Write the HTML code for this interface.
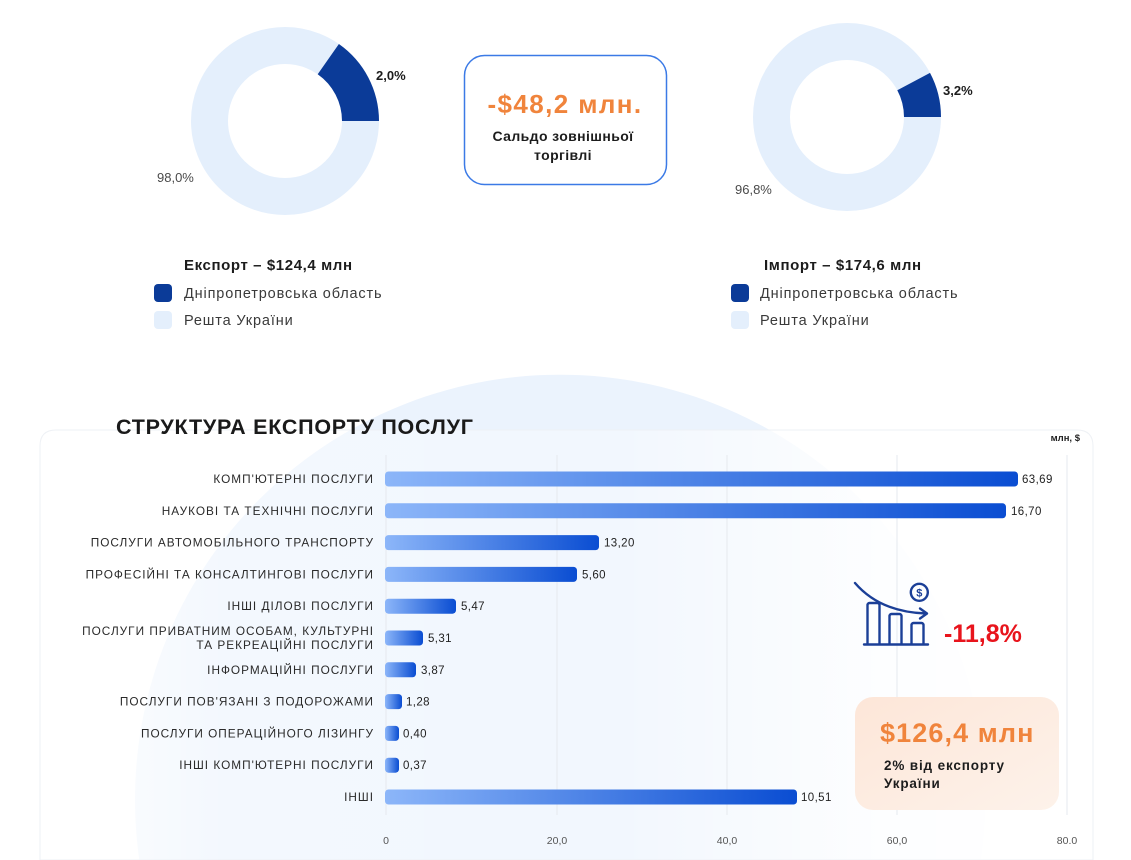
<!DOCTYPE html>
<html><head><meta charset="utf-8">
<style>
html,body{margin:0;padding:0;background:#fff;}
body{width:1131px;height:860px;overflow:hidden;position:relative;font-family:"Liberation Sans",sans-serif;}
svg{position:absolute;left:0;top:0;overflow:hidden;}
text{font-family:"Liberation Sans",sans-serif;}
</style></head>
<body>
<svg width="1131" height="860" viewBox="0 0 1131 860" xmlns="http://www.w3.org/2000/svg">
<defs>
  <linearGradient id="bar" x1="0" y1="0" x2="1" y2="0">
    <stop offset="0" stop-color="#8cb6f9"/>
    <stop offset="1" stop-color="#0a4dd2"/>
  </linearGradient>
  <linearGradient id="cardfade" x1="0" y1="0" x2="1131" y2="0" gradientUnits="userSpaceOnUse">
    <stop offset="0.03" stop-color="#fff" stop-opacity="1"/>
    <stop offset="0.2" stop-color="#fff" stop-opacity="0.4"/>
    <stop offset="0.55" stop-color="#fff" stop-opacity="0.35"/>
    <stop offset="0.78" stop-color="#fff" stop-opacity="0.9"/>
    <stop offset="0.97" stop-color="#fff" stop-opacity="1"/>
  </linearGradient>
  <linearGradient id="orange" x1="0" y1="0" x2="1" y2="1">
    <stop offset="0" stop-color="#fde6d8"/>
    <stop offset="1" stop-color="#fdf2ea"/>
  </linearGradient>
</defs>

<!-- background glow circle (clipped to frame) -->
<path d="M139.3,860 A425,425 0 1 1 980.7,860 Z" fill="#ebf3fd"/>
<!-- card -->
<path d="M40,860 V446 Q40,430 56,430 H1077 Q1093,430 1093,446 V860 Z" fill="url(#cardfade)" stroke="#eef1f5" stroke-width="1"/>

<!-- Donut 1 -->
<circle cx="285" cy="121" r="75.5" fill="none" stroke="#e4effc" stroke-width="37"/>
<path d="M379,121 A94,94 0 0 0 338.9,44 L317.7,74.3 A57,57 0 0 1 342,121 Z" fill="#0b3b98"/>
<text x="376" y="80" font-size="13" font-weight="bold" fill="#1c1c1c">2,0%</text>
<text x="157" y="182" font-size="13" fill="#4a4a4a">98,0%</text>

<!-- Donut 2 -->
<circle cx="847" cy="117" r="75.5" fill="none" stroke="#e4effc" stroke-width="37"/>
<path d="M941,117 A94,94 0 0 0 930,72.9 L897.3,90.3 A57,57 0 0 1 904,117 Z" fill="#0b3b98"/>
<text x="943" y="95" font-size="13" font-weight="bold" fill="#1c1c1c">3,2%</text>
<text x="735" y="194" font-size="13" fill="#4a4a4a">96,8%</text>

<!-- Saldo box -->
<rect x="464.5" y="55.5" width="202" height="129" rx="20" fill="#fff" stroke="#3b7ae6" stroke-width="1.5"/>
<text x="565" y="113" font-size="26" font-weight="bold" fill="#f0843c" text-anchor="middle" letter-spacing="1.4">-$48,2 млн.</text>
<text x="563" y="141" font-size="14" font-weight="bold" fill="#1c1c1c" text-anchor="middle" letter-spacing="0.4">Сальдо зовнішньої</text>
<text x="563" y="160" font-size="14" font-weight="bold" fill="#1c1c1c" text-anchor="middle" letter-spacing="0.4">торгівлі</text>

<!-- Legend 1 -->
<text x="184" y="270" font-size="15" font-weight="bold" fill="#1c1c1c" letter-spacing="0.6">Експорт – $124,4 млн</text>
<rect x="154" y="284" width="18" height="18" rx="4" fill="#0b3b98"/>
<text x="184" y="298" font-size="14.5" fill="#3a3a3a" letter-spacing="0.85">Дніпропетровська область</text>
<rect x="154" y="311" width="18" height="18" rx="4" fill="#e4effc"/>
<text x="184" y="325" font-size="14.5" fill="#3a3a3a" letter-spacing="0.85">Решта України</text>

<!-- Legend 2 -->
<text x="764" y="270" font-size="15" font-weight="bold" fill="#1c1c1c" letter-spacing="0.6">Імпорт – $174,6 млн</text>
<rect x="731" y="284" width="18" height="18" rx="4" fill="#0b3b98"/>
<text x="760" y="298" font-size="14.5" fill="#3a3a3a" letter-spacing="0.85">Дніпропетровська область</text>
<rect x="731" y="311" width="18" height="18" rx="4" fill="#e4effc"/>
<text x="760" y="325" font-size="14.5" fill="#3a3a3a" letter-spacing="0.85">Решта України</text>

<!-- Title -->
<text x="116" y="434" font-size="21.5" font-weight="bold" fill="#1a1a1a" letter-spacing="0.75">СТРУКТУРА ЕКСПОРТУ ПОСЛУГ</text>
<text x="1080" y="441" font-size="9.5" font-weight="bold" fill="#222" text-anchor="end">млн, $</text>

<!-- gridlines -->
<g stroke="#e5e9ef" stroke-width="1">
  <line x1="386" y1="455" x2="386" y2="815"/>
  <line x1="557" y1="455" x2="557" y2="815"/>
  <line x1="727" y1="455" x2="727" y2="815"/>
  <line x1="897" y1="455" x2="897" y2="815"/>
  <line x1="1067" y1="455" x2="1067" y2="815"/>
</g>

<!-- bars -->
<g fill="url(#bar)">
  <rect x="385" y="471.5" width="633" height="15" rx="3.5"/>
  <rect x="385" y="503.3" width="621" height="15" rx="3.5"/>
  <rect x="385" y="535.1" width="214" height="15" rx="3.5"/>
  <rect x="385" y="566.9" width="192" height="15" rx="3.5"/>
  <rect x="385" y="598.7" width="71" height="15" rx="3.5"/>
  <rect x="385" y="630.5" width="38" height="15" rx="3.5"/>
  <rect x="385" y="662.3" width="31" height="15" rx="3.5"/>
  <rect x="385" y="694.1" width="17" height="15" rx="3.5"/>
  <rect x="385" y="725.9" width="14" height="15" rx="3.5"/>
  <rect x="385" y="757.7" width="14" height="15" rx="3.5"/>
  <rect x="385" y="789.5" width="412" height="15" rx="3.5"/>
</g>

<!-- category labels -->
<g font-size="11.8" fill="#2a2a2a" text-anchor="end" letter-spacing="1.0">
  <text x="374" y="483">КОМП'ЮТЕРНІ ПОСЛУГИ</text>
  <text x="374" y="514.8">НАУКОВІ ТА ТЕХНІЧНІ ПОСЛУГИ</text>
  <text x="374" y="546.6">ПОСЛУГИ АВТОМОБІЛЬНОГО ТРАНСПОРТУ</text>
  <text x="374" y="578.4">ПРОФЕСІЙНІ ТА КОНСАЛТИНГОВІ ПОСЛУГИ</text>
  <text x="374" y="610.2">ІНШІ ДІЛОВІ ПОСЛУГИ</text>
  <text x="374" y="635">ПОСЛУГИ ПРИВАТНИМ ОСОБАМ, КУЛЬТУРНІ</text>
  <text x="374" y="649">ТА РЕКРЕАЦІЙНІ ПОСЛУГИ</text>
  <text x="374" y="673.8">ІНФОРМАЦІЙНІ ПОСЛУГИ</text>
  <text x="374" y="705.6">ПОСЛУГИ ПОВ'ЯЗАНІ З ПОДОРОЖАМИ</text>
  <text x="374" y="737.4">ПОСЛУГИ ОПЕРАЦІЙНОГО ЛІЗИНГУ</text>
  <text x="374" y="769.2">ІНШІ КОМП'ЮТЕРНІ ПОСЛУГИ</text>
  <text x="374" y="801">ІНШІ</text>
</g>

<!-- value labels -->
<g font-size="11.5" fill="#222" letter-spacing="0.4">
  <text x="1022" y="483">63,69</text>
  <text x="1011" y="514.8">16,70</text>
  <text x="604" y="546.6">13,20</text>
  <text x="582" y="578.4">5,60</text>
  <text x="461" y="610.2">5,47</text>
  <text x="428" y="642">5,31</text>
  <text x="421" y="673.8">3,87</text>
  <text x="406" y="705.6">1,28</text>
  <text x="403" y="737.4">0,40</text>
  <text x="403" y="769.2">0,37</text>
  <text x="801" y="801">10,51</text>
</g>

<!-- x axis labels -->
<g font-size="10.5" fill="#555" text-anchor="middle">
  <text x="386" y="844">0</text>
  <text x="557" y="844">20,0</text>
  <text x="727" y="844">40,0</text>
  <text x="897" y="844">60,0</text>
  <text x="1067" y="844">80.0</text>
</g>

<!-- icon -->
<g fill="none" stroke="#1b3f97" stroke-width="2.4" stroke-linejoin="round" stroke-linecap="round">
  <path d="M855,583 Q880,612 926,613.5"/>
  <path d="M920,608.5 L927,613.5 L920,618.5"/>
  <circle cx="919.3" cy="592.3" r="8.5"/>
  <path d="M867.5,644 V605 a2,2 0 0 1 2,-2 h8 a2,2 0 0 1 2,2 V644"/>
  <path d="M889.5,644 V616 a2,2 0 0 1 2,-2 h8 a2,2 0 0 1 2,2 V644"/>
  <path d="M911.5,644 V625 a2,2 0 0 1 2,-2 h8 a2,2 0 0 1 2,2 V644"/>
  <line x1="864" y1="644.5" x2="928" y2="644.5"/>
</g>
<text x="919.3" y="596.5" font-size="11" font-weight="bold" fill="#1b3f97" text-anchor="middle">$</text>
<text x="944" y="642" font-size="25" font-weight="bold" fill="#e8141c">-11,8%</text>

<!-- orange box -->
<rect x="855" y="697" width="204" height="113" rx="18" fill="url(#orange)"/>
<text x="880" y="742" font-size="27" font-weight="bold" fill="#f0843c" letter-spacing="1.1">$126,4 млн</text>
<text x="884" y="770" font-size="13.5" font-weight="bold" fill="#1c1c1c" letter-spacing="0.85">2% від експорту</text>
<text x="884" y="788" font-size="13.5" font-weight="bold" fill="#1c1c1c" letter-spacing="0.85">України</text>
</svg>
</body></html>
